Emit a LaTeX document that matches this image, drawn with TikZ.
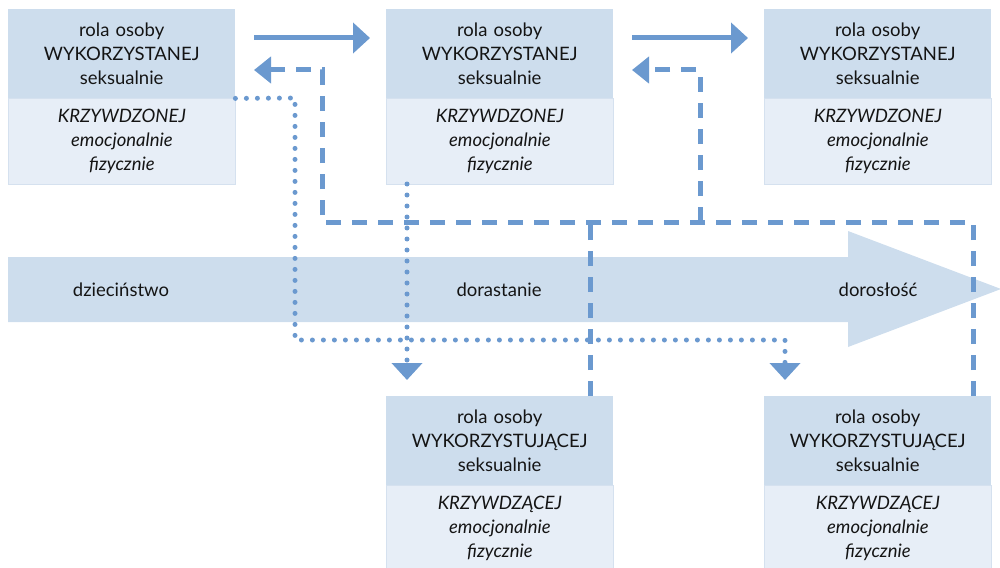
\documentclass[tikz,border=0pt]{standalone}
\usepackage{fontspec}
\setmainfont{Lato}
\usetikzlibrary{arrows.meta,calc}
\definecolor{linec}{HTML}{6B99CF}
\definecolor{bandc}{HTML}{CDDDED}
\definecolor{upc}{HTML}{CDDDED}
\definecolor{lowc}{HTML}{E7EEF7}
\definecolor{lowb}{HTML}{D5E1EF}
\definecolor{txt}{HTML}{141414}
\begin{document}
\begin{tikzpicture}[x=1pt,y=-1pt,
  upbox/.style={fill=upc, inner sep=0pt, minimum width=227pt, minimum height=89pt, anchor=north west, text width=225pt, align=center, text=txt, font=\fontsize{18.5}{24}\selectfont},
  lowbox/.style={fill=lowc, draw=lowb, line width=0.8pt, inner sep=0pt, minimum width=227pt, minimum height=86pt, anchor=north west, text width=225pt, align=center, text=txt, font=\fontsize{18.5}{24}\selectfont\itshape},
  bandlabel/.style={text=txt, font=\fontsize{18.5}{22}\selectfont},
  solidarrow/.style={draw=linec, line width=5pt, -{Triangle[length=17pt,width=30pt]}, linec},
  dasharrow/.style={draw=linec, line width=5pt, dash pattern=on 15pt off 11pt, -{Triangle[length=17pt,width=26pt]}, linec},
  dashline/.style={draw=linec, line width=5pt, dash pattern=on 15pt off 11pt},
  dotarrow/.style={draw=linec, line width=5pt, line cap=round, dash pattern=on 0pt off 11pt, -{Triangle[length=17pt,width=30pt]}, linec},
  dotline/.style={draw=linec, line width=5pt, line cap=round, dash pattern=on 0pt off 11pt}
]
\useasboundingbox (0,0) rectangle (1000,567);
% timeline band
\fill[bandc] (8,257) -- (848,257) -- (848,231) -- (1001,289) -- (848,347) -- (848,322) -- (8,322) -- cycle;
\node[bandlabel] (t1) at (121,290) {dzieciństwo};
\node[bandlabel] (t2) at (499,290) {dorastanie};
\node[bandlabel] (t3) at (878,290) {dorosłość};
% top boxes
\node[upbox] (u1) at (8,9) {rola osoby\\WYKORZYSTANEJ\\seksualnie};
\node[lowbox] (l1) at (8,98) {KRZYWDZONEJ\\emocjonalnie\\fizycznie};
\node[upbox] (u2) at (386,9) {rola osoby\\WYKORZYSTANEJ\\seksualnie};
\node[lowbox] (l2) at (386,98) {KRZYWDZONEJ\\emocjonalnie\\fizycznie};
\node[upbox] (u3) at (764,9) {rola osoby\\WYKORZYSTANEJ\\seksualnie};
\node[lowbox] (l3) at (764,98) {KRZYWDZONEJ\\emocjonalnie\\fizycznie};
% bottom boxes
\node[upbox] (b1) at (386,396) {rola osoby\\WYKORZYSTUJĄCEJ\\seksualnie};
\node[lowbox] (bl1) at (386,485) {KRZYWDZĄCEJ\\emocjonalnie\\fizycznie};
\node[upbox] (b2) at (764,396) {rola osoby\\WYKORZYSTUJĄCEJ\\seksualnie};
\node[lowbox] (bl2) at (764,485) {KRZYWDZĄCEJ\\emocjonalnie\\fizycznie};
% solid arrows
\coordinate (s1a) at (254,38); \coordinate (s1b) at (370,38);
\coordinate (s2a) at (632,38); \coordinate (s2b) at (748,38);
\draw[solidarrow] (s1a) -- (s1b);
\draw[solidarrow] (s2a) -- (s2b);
% dashed network
\coordinate (dA) at (322,222);
\coordinate (dB) at (700,222);
\coordinate (dC) at (973,222);
\coordinate (dD) at (590,222);
\coordinate (h1) at (254,70);
\coordinate (h2) at (632,70);
\draw[dashline] (b1.north -| dD) -- (dD);
\draw[dasharrow] (b2.north -| dC) -- (dC) -- (dA) -- (dA |- h1) -- (h1);
\draw[dasharrow] (dB) -- (dB |- h2) -- (h2);
% dotted network
\coordinate (p1) at (295,98);
\coordinate (p2) at (295,340);
\coordinate (p3) at (785,340);
\coordinate (p4) at (785,380);
\coordinate (q1) at (407,184);
\coordinate (q2) at (407,380);
\draw[dotarrow] (u1.south east) -- (p1) -- (p2) -- (p3) -- (p4);
\draw[dotarrow] (q1) -- (q2);
\end{tikzpicture}
\end{document}
